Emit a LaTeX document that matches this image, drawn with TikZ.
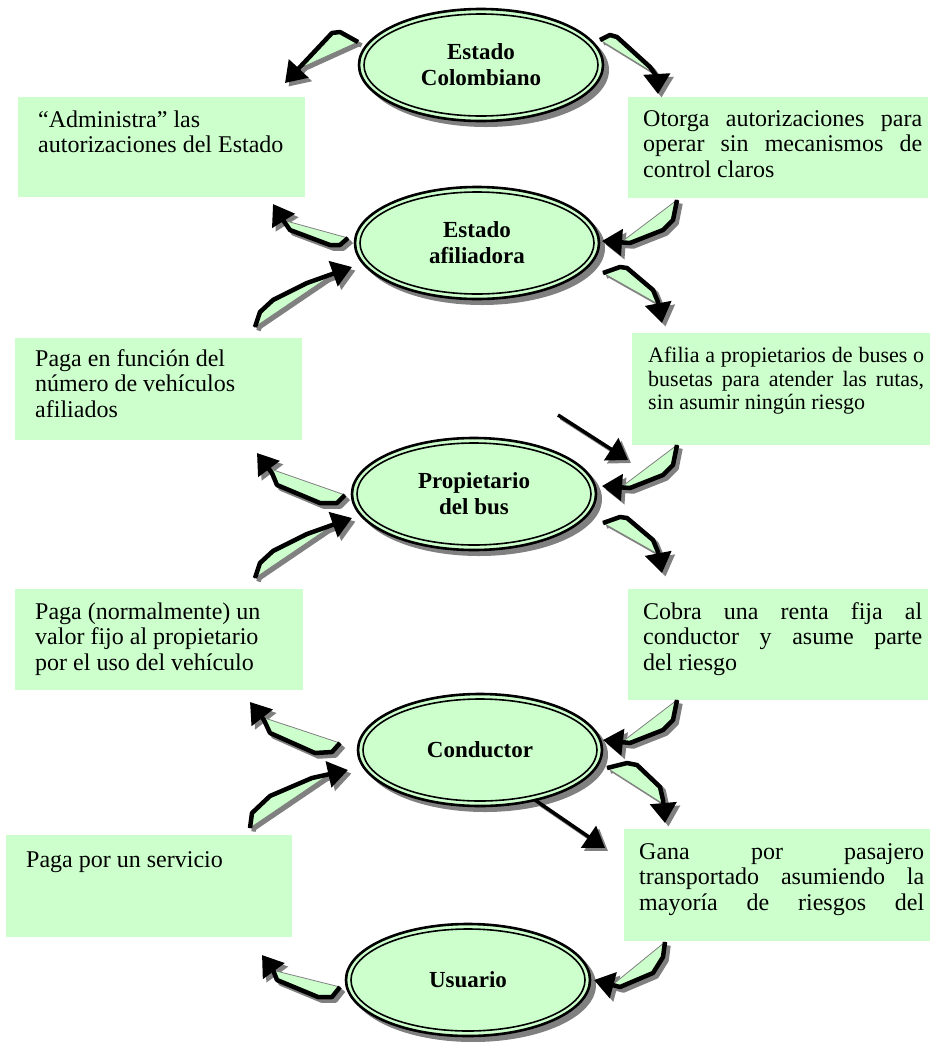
\documentclass[tikz,border=0pt]{standalone}
\usepackage{fontspec}
\setmainfont{Liberation Serif}
\usetikzlibrary{shapes.geometric,arrows.meta,calc}
\definecolor{boxgreen}{HTML}{CCFFCC}
\definecolor{shadowgray}{HTML}{808080}

% text block of fixed size: width, height, top padding, paragraph setup, text
\newcommand\boxbody[5]{\begin{minipage}[t][#2][t]{#1}\vspace*{#3}\parindent=0pt #4#5\par\end{minipage}}
\newcommand\leftpar{\fontsize{24}{25.5}\selectfont\leftskip=20pt\rightskip=0pt plus 1fil\relax}
\newcommand\justpar{\fontsize{24}{25.5}\selectfont\leftskip=15pt\rightskip=6pt\relax}

% bent 3-D arrow: polyline up to last bend (#1), last bend (#2), tip (#3)
\newcommand\bentarrow[3]{%
  \begin{scope}[shift={(3.5,3.5)}]
    \fill[shadowgray] #1 -- ($#3!19pt!#2$) -- cycle;
    \draw[armshade] #1 -- #3;
  \end{scope}
  \filldraw[fill=boxgreen, draw=shadowgray, line width=0.8pt] #1 -- ($#3!19pt!#2$) -- cycle;
  \draw[arm] #1 -- #3;
}

\begin{document}
\begin{tikzpicture}[x=1pt,y=-1pt,
  ell/.style={ellipse, draw=black, line width=2.6pt, fill=boxgreen,
    minimum width=244pt, minimum height=112pt, inner sep=0pt, align=center,
    font=\fontsize{23}{26}\selectfont\bfseries,
    path picture={\draw[line width=1.6pt] (path picture bounding box.center)
      ellipse [x radius=117pt, y radius=51pt];}},
  bx/.style={fill=boxgreen, inner sep=0pt, anchor=north west},
  arm/.style={line width=4.5pt, line join=round, draw=black,
    -{Triangle[length=20pt,width=26pt]}},
  armshade/.style={arm, draw=shadowgray}]

\fill[white] (0,0) rectangle (930,1042);
\useasboundingbox (0,0) rectangle (930,1042);

% ---- text boxes ----
\node[bx] (b1) at (18,97) {\boxbody{287pt}{100pt}{12pt}{\leftpar}{\strut``Administra'' las\\ autorizaciones del Estado}};
\node[bx] (b2) at (628,97) {\boxbody{300pt}{101pt}{11pt}{\justpar\parfillskip=0pt plus 1fil}{\strut Otorga autorizaciones para\linebreak operar sin mecanismos de\linebreak control claros}};
\node[bx] (b3) at (15,338) {\boxbody{287pt}{102pt}{10pt}{\leftpar}{\strut Paga en función del\\ número de vehículos\\ afiliados}};
\node[bx] (b4) at (632,333) {\boxbody{298pt}{112pt}{13pt}{\fontsize{22}{23.5}\selectfont\leftskip=16pt\rightskip=6pt\relax}{\strut Afilia a propietarios de buses o\linebreak busetas para atender las rutas,\linebreak sin asumir ningún riesgo}};
\node[bx] (b5) at (15,589) {\boxbody{288pt}{101pt}{12pt}{\leftpar}{\strut Paga (normalmente) un\\ valor fijo al propietario\\ por el uso del vehículo}};
\node[bx] (b6) at (628,589) {\boxbody{300pt}{111pt}{12pt}{\justpar}{\strut Cobra una renta fija al\linebreak conductor y asume parte\linebreak del riesgo}};
\node[bx] (b7) at (6,835) {\boxbody{286pt}{102pt}{14pt}{\leftpar}{\strut Paga por un servicio}};
\node[bx] (b8) at (624,829) {\boxbody{306pt}{112pt}{12pt}{\justpar\parfillskip=0pt}{\strut Gana por pasajero\linebreak transportado asumiendo la\linebreak mayoría de riesgos del}};

% ---- ellipses with drop shadows ----
\foreach \cx/\cy in {481/65, 477/243, 474/494, 480/750, 468/980}
  \fill[shadowgray] (\cx+5,\cy+5) ellipse [x radius=123pt, y radius=57pt];
\node[ell] (e1) at (481,65) {Estado\\ Colombiano};
\node[ell] (e2) at (477,243) {Estado\\ afiliadora};
\node[ell] (e3) at (474,494) {Propietario\\ del bus};
\node[ell] (e4) at (480,750) {Conductor};
\node[ell] (e5) at (468,980) {Usuario};

% ---- bent arrows ----
% Estado Colombiano
\bentarrow{(358,42) -- (340,32) -- (332,33)}{(332,33)}{(285,83)}
\bentarrow{(600,40) -- (610,35) -- (617,37) -- (650,67) -- (657,77)}{(657,77)}{(658,94)}
% Estado afiliadora
\bentarrow{(348,238) -- (340,245) -- (330,245) -- (290,230) -- (283,220)}{(283,220)}{(273,204)}
\bentarrow{(255,327) -- (260,312) -- (273,300) -- (307,283)}{(307,283)}{(352,267)}
\bentarrow{(677,200) -- (673,220) -- (663,230) -- (630,243)}{(630,243)}{(602,241)}
\bentarrow{(603,273) -- (620,267) -- (627,268) -- (653,290) -- (658,302)}{(658,302)}{(662,323)}
% Propietario del bus
\bentarrow{(345,495) -- (337,503) -- (320,503) -- (277,485) -- (272,473)}{(272,473)}{(257,453)}
\bentarrow{(255,578) -- (260,563) -- (273,551) -- (307,534)}{(307,534)}{(352,518)}
\bentarrow{(677,445) -- (673,465) -- (663,475) -- (630,488)}{(630,488)}{(602,486)}
\bentarrow{(603,523) -- (620,517) -- (627,518) -- (653,540) -- (658,552)}{(658,552)}{(662,573)}
% Conductor
\bentarrow{(340,743) -- (332,752) -- (315,753) -- (270,733) -- (264,720)}{(264,720)}{(250,702)}
\bentarrow{(250,828) -- (252,813) -- (270,796) -- (312,778)}{(312,778)}{(348,770)}
\bentarrow{(677,700) -- (673,720) -- (663,730) -- (630,743)}{(630,743)}{(603,740)}
\bentarrow{(607,768) -- (627,763) -- (637,765) -- (660,787) -- (663,800)}{(663,800)}{(665,823)}
% Usuario
\bentarrow{(340,987) -- (332,997) -- (318,997) -- (277,980) -- (273,970)}{(273,970)}{(262,955)}
\bentarrow{(665,942) -- (663,957) -- (653,973) -- (620,987)}{(620,987)}{(594,980)}

% ---- straight arrows ----
\coordinate (s1a) at (558,415); \coordinate (s1b) at (628,460);
\coordinate (s2a) at (535,800); \coordinate (s2b) at (605,848);
\draw[armshade, line width=3.5pt] ($(s1a)+(3,3)$) -- ($(s1b)+(3,3)$);
\draw[armshade, line width=3.5pt] ($(s2a)+(3,3)$) -- ($(s2b)+(3,3)$);
\draw[arm, line width=3.5pt] (s1a) -- (s1b);
\draw[arm, line width=3.5pt] (s2a) -- (s2b);
\end{tikzpicture}
\end{document}
